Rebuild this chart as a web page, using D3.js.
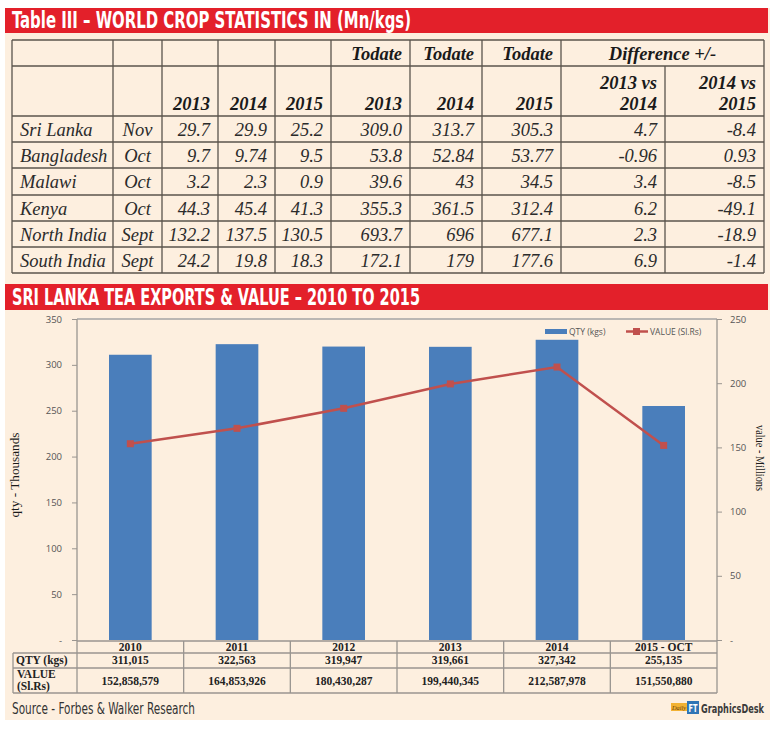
<!DOCTYPE html>
<html><head><meta charset="utf-8">
<script src="https://cdn.jsdelivr.net/npm/d3@7"></script>
<style>
html,body{margin:0;padding:0;background:#fff;}
svg{display:block;}
</style></head>
<body>
<svg id="c" width="770" height="733"></svg>
<script>
// ---------- DATA ----------
const tableTitle = "Table III \u2013 WORLD CROP STATISTICS IN (Mn/kgs)";
const chartTitle = "SRI LANKA TEA EXPORTS & VALUE \u2013 2010 TO 2015";
const countries = ["Sri Lanka","Bangladesh","Malawi","Kenya","North India","South India"];
const months = ["Nov","Oct","Oct","Oct","Sept","Sept"];
const crop2013 = ["29.7","9.7","3.2","44.3","132.2","24.2"];
const crop2014 = ["29.9","9.74","2.3","45.4","137.5","19.8"];
const crop2015 = ["25.2","9.5","0.9","41.3","130.5","18.3"];
const todate2013 = ["309.0","53.8","39.6","355.3","693.7","172.1"];
const todate2014 = ["313.7","52.84","43","361.5","696","179"];
const todate2015 = ["305.3","53.77","34.5","312.4","677.1","177.6"];
const diff1314 = ["4.7","-0.96","3.4","6.2","2.3","6.9"];
const diff1415 = ["-8.4","0.93","-8.5","-49.1","-18.9","-1.4"];

const years = ["2010","2011","2012","2013","2014","2015 - OCT"];
const qtyKgs = [311015, 322563, 319947, 319661, 327342, 255135];
const valueRs = [152858579, 164853926, 180430287, 199440345, 212587978, 151550880];
const leftTicks = [0,50,100,150,200,250,300,350];
const rightTicks = [0,50,100,150,200,250];

// ---------- STYLE ----------
const cream = "#fdefdf", red = "#e3202a", line = "#5a544c";
const serif = "'Liberation Serif','Times New Roman',serif";
const narrow = "'Liberation Sans Narrow','DejaVu Sans Condensed','Arial Narrow',sans-serif";
const svg = d3.select("#c");

svg.append("rect").attr("x",5).attr("y",8).attr("width",765).attr("height",712).attr("fill",cream);

function header(y, h, text, len){
  svg.append("rect").attr("x",5).attr("y",y).attr("width",763).attr("height",h).attr("fill",red);
  svg.append("text").attr("x",12).attr("y",y+h-5).text(text)
    .attr("fill","#fff").attr("font-family",narrow).attr("font-weight","bold")
    .attr("font-size",23).attr("textLength",len).attr("lengthAdjust","spacingAndGlyphs");
}
header(8, 25, tableTitle, 399);
header(284, 26, chartTitle, 408);

// ---------- TABLE ----------
const colX = [12,113,162,218,275,331,410,482,561,665,764];
const rowY = [40,66,116,142,168,195,221,247,273];
const tg = svg.append("g");
rowY.forEach((y,i)=>{
  tg.append("line").attr("x1",colX[0]).attr("x2",colX[10]).attr("y1",y).attr("y2",y)
    .attr("stroke",line).attr("stroke-width",1.3);
});
colX.forEach((x,i)=>{
  const y1 = (i===9) ? rowY[1] : rowY[0];
  tg.append("line").attr("x1",x).attr("x2",x).attr("y1",y1).attr("y2",rowY[8])
    .attr("stroke",line).attr("stroke-width",1.3);
});
function cellText(txt, c, yBase, align, bold){
  let x, anchor;
  if(align==="left"){x=colX[c]+8;anchor="start";}
  else if(align==="mid"){x=(colX[c]+colX[c+1])/2;anchor="middle";}
  else {x=colX[c+1]-8;anchor="end";}
  tg.append("text").attr("x",x).attr("y",yBase).attr("text-anchor",anchor).text(txt)
    .attr("font-family",serif).attr("font-style","italic").attr("font-size",18.5)
    .attr("font-weight",bold?"bold":"normal").attr("fill",bold?"#1a1a1a":"#2b2b2b");
}
["Todate","Todate","Todate"].forEach((t,i)=>cellText(t,5+i,60,"right",true));
tg.append("text").attr("x",(colX[8]+colX[10])/2).attr("y",60).attr("text-anchor","middle")
  .text("Difference +/-").attr("font-family",serif).attr("font-style","italic")
  .attr("font-size",18.5).attr("font-weight","bold").attr("fill","#1a1a1a");
["2013","2014","2015","2013","2014","2015"].forEach((t,i)=>cellText(t,2+i,110,"right",true));
cellText("2013 vs",8,89,"right",true); cellText("2014",8,110,"right",true);
cellText("2014 vs",9,89,"right",true); cellText("2015",9,110,"right",true);
const cols = [crop2013,crop2014,crop2015,todate2013,todate2014,todate2015,diff1314,diff1415];
countries.forEach((c,r)=>{
  const yb = rowY[r+2]+20;
  cellText(c,0,yb,"left",false);
  cellText(months[r],1,yb,"mid",false);
  cols.forEach((arr,k)=>cellText(arr[r],2+k,yb,"right",false));
});

// ---------- CHART ----------
const L=77, R=717, T=319, B=640;
const x = d3.scaleBand().domain(years).range([L,R]).paddingInner(0.6).paddingOuter(0.3);
const yL = d3.scaleLinear().domain([0,350]).range([B,T]);
const yR = d3.scaleLinear().domain([0,250]).range([B,T]);
const cg = svg.append("g");
const axisCol = "#9a9590";

cg.append("line").attr("x1",L).attr("x2",R).attr("y1",T).attr("y2",T).attr("stroke","#a5a5a5").attr("stroke-width",1.5);

cg.selectAll("rect.bar").data(years).enter().append("rect")
  .attr("x",d=>x(d)).attr("width",x.bandwidth())
  .attr("y",(d,i)=>yL(qtyKgs[i]/1000)).attr("height",(d,i)=>B-yL(qtyKgs[i]/1000))
  .attr("fill","#4a7ebb");

const fmt = d=> d===0 ? "-" : d;
const axL = cg.append("g").attr("transform",`translate(${L},0)`)
  .call(d3.axisLeft(yL).tickValues(leftTicks).tickFormat(fmt).tickSize(5).tickPadding(10));
const axR = cg.append("g").attr("transform",`translate(${R},0)`)
  .call(d3.axisRight(yR).tickValues(rightTicks).tickFormat(fmt).tickSize(5).tickPadding(8));
[axL,axR].forEach(a=>{
  a.select(".domain").remove();
  a.selectAll(".tick line").attr("stroke",axisCol);
  a.selectAll(".tick text").attr("fill","#555").attr("font-family","'Open Sans',sans-serif").attr("font-size",9.5);
});
cg.append("line").attr("x1",L).attr("x2",L).attr("y1",T).attr("y2",693).attr("stroke",axisCol).attr("stroke-width",1.3);
cg.append("line").attr("x1",R).attr("x2",R).attr("y1",T).attr("y2",693).attr("stroke",axisCol).attr("stroke-width",1.3);

const cx = d=>x(d)+x.bandwidth()/2;
const lineGen = d3.line().x((d,i)=>cx(years[i])).y(d=>yR(d/1e6));
cg.append("path").datum(valueRs).attr("d",lineGen).attr("fill","none")
  .attr("stroke","#c0504d").attr("stroke-width",2.5);
cg.selectAll("rect.mk").data(valueRs).enter().append("rect")
  .attr("x",(d,i)=>cx(years[i])-3.5).attr("y",d=>yR(d/1e6)-3.5)
  .attr("width",7).attr("height",7).attr("fill","#c0504d");

const lg = cg.append("g");
lg.append("rect").attr("x",545).attr("y",329).attr("width",22).attr("height",5).attr("fill","#4a7ebb");
lg.append("text").attr("x",569).attr("y",334.5).text("QTY (kgs)").attr("font-family","'Open Sans',sans-serif").attr("font-size",8.5).attr("fill","#555");
lg.append("line").attr("x1",626).attr("x2",648).attr("y1",331.5).attr("y2",331.5).attr("stroke","#c0504d").attr("stroke-width",2.5);
lg.append("rect").attr("x",633).attr("y",328).attr("width",7).attr("height",7).attr("fill","#c0504d");
lg.append("text").attr("x",650).attr("y",334.5).text("VALUE (Sl.Rs)").attr("font-family","'Open Sans',sans-serif").attr("font-size",8.5).attr("fill","#555");

cg.append("text").attr("transform","translate(19,475) rotate(-90)").attr("text-anchor","middle")
  .text("qty - Thousands").attr("font-family",serif).attr("font-size",13.5).attr("fill","#1a1a1a")
  .attr("textLength",85).attr("lengthAdjust","spacingAndGlyphs");
cg.append("text").attr("transform","translate(756,458) rotate(90)").attr("text-anchor","middle")
  .text("value - Millions").attr("font-family",serif).attr("font-size",13.5).attr("fill","#1a1a1a")
  .attr("textLength",66).attr("lengthAdjust","spacingAndGlyphs");

const dtY = [641,653,668,693];
const dg = svg.append("g");
dg.append("line").attr("x1",L).attr("x2",R).attr("y1",dtY[0]).attr("y2",dtY[0]).attr("stroke",axisCol).attr("stroke-width",1.3);
[1,2,3].forEach(i=>dg.append("line").attr("x1",13).attr("x2",R).attr("y1",dtY[i]).attr("y2",dtY[i]).attr("stroke",axisCol).attr("stroke-width",1.3));
dg.append("line").attr("x1",13).attr("x2",13).attr("y1",dtY[1]).attr("y2",dtY[3]).attr("stroke",axisCol).attr("stroke-width",1.3);
const step = x.step();
years.forEach((y,i)=>{
  const x0 = L + step*i;
  if(i>0) dg.append("line").attr("x1",x0).attr("x2",x0).attr("y1",dtY[0]).attr("y2",dtY[3]).attr("stroke",axisCol).attr("stroke-width",1.3);
  const c = x0+step/2;
  const tt = (t,yy)=>dg.append("text").attr("x",c).attr("y",yy).attr("text-anchor","middle").text(t)
    .attr("font-family",serif).attr("font-weight","bold").attr("font-size",11.5).attr("fill","#222");
  tt(y,651);
  tt(d3.format(",")(qtyKgs[i]),664);
  tt(d3.format(",")(valueRs[i]),685);
});
const lt = (t,xx,yy)=>dg.append("text").attr("x",xx).attr("y",yy).text(t)
  .attr("font-family",serif).attr("font-weight","bold").attr("font-size",11.5).attr("fill","#222");
lt("QTY (kgs)",16,664);
lt("VALUE",17,678);
lt("(Sl.Rs)",17,690);

svg.append("text").attr("x",12).attr("y",714).text("Source - Forbes & Walker Research")
  .attr("font-family",narrow).attr("font-size",15).attr("fill","#333")
  .attr("textLength",183).attr("lengthAdjust","spacingAndGlyphs");
svg.append("rect").attr("x",671).attr("y",703).attr("width",16).attr("height",8).attr("fill","#f2b233");
svg.append("text").attr("x",672).attr("y",710).text("Daily").attr("font-family",serif).attr("font-style","italic")
  .attr("font-size",7).attr("fill","#6b3b0a").attr("textLength",14).attr("lengthAdjust","spacingAndGlyphs");
svg.append("rect").attr("x",687).attr("y",701).attr("width",12).attr("height",13).attr("fill","#2f74b5");
svg.append("text").attr("x",688.5).attr("y",712).text("FT").attr("font-family",narrow).attr("font-weight","bold")
  .attr("font-size",11).attr("fill","#fff").attr("textLength",9).attr("lengthAdjust","spacingAndGlyphs");
svg.append("text").attr("x",701).attr("y",713).text("GraphicsDesk").attr("font-family",narrow).attr("font-weight","bold")
  .attr("font-size",11.5).attr("fill","#3a3a3a").attr("textLength",63).attr("lengthAdjust","spacingAndGlyphs");
</script>
</body></html>
